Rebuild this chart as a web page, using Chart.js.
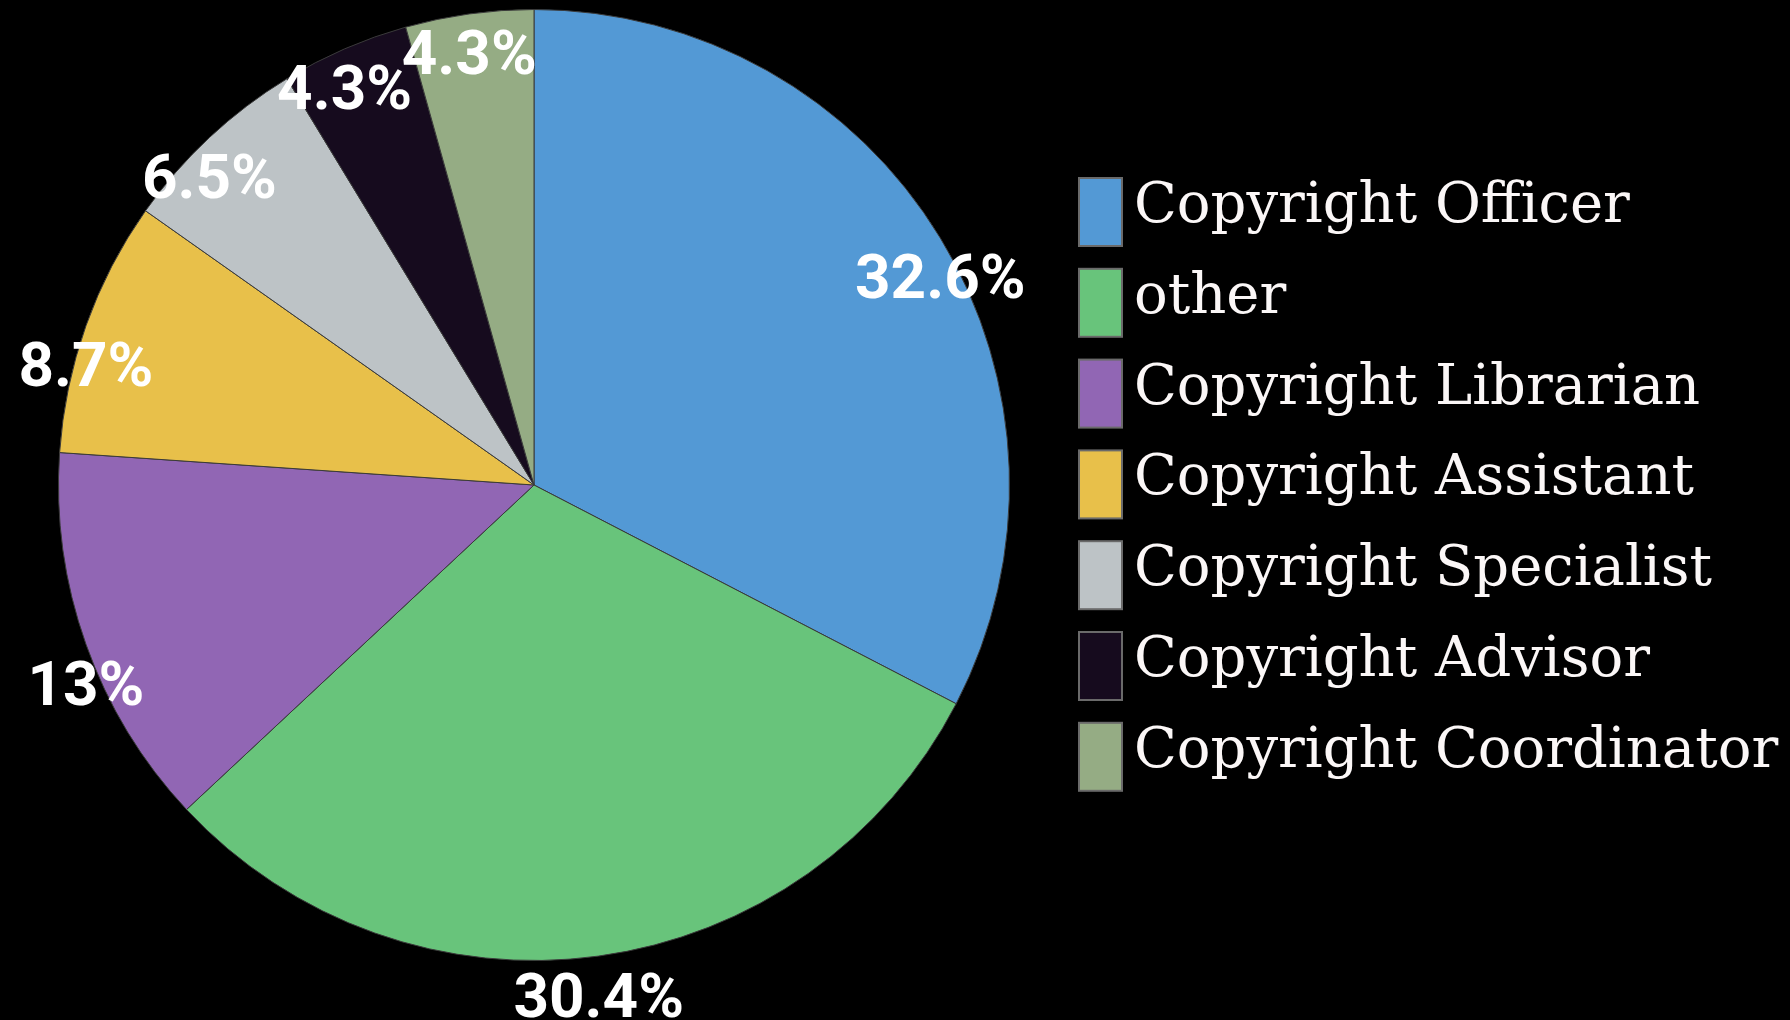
<!DOCTYPE html>
<html>
<head>
<meta charset="utf-8">
<script src="https://cdn.jsdelivr.net/npm/chart.js@4.4.1/dist/chart.umd.min.js"></script>
<style>
  html, body { margin: 0; padding: 0; background: #000; }
  #wrap { width: 1790px; height: 1020px; }
</style>
</head>
<body>
<div id="wrap"><canvas id="c" width="1790" height="1020"></canvas></div>
<script>
// ---- data ----
const categories = ['Copyright Officer', 'other', 'Copyright Librarian', 'Copyright Assistant',
                    'Copyright Specialist', 'Copyright Advisor', 'Copyright Coordinator'];
const counts = [15, 14, 6, 4, 3, 2, 2];
const sliceColors = ['#5399D5', '#68C47B', '#9166B4', '#E8C04A', '#BDC3C6', '#160B1E', '#95AC84'];

const total = counts.reduce((a, b) => a + b, 0);
function pctText(v) {
  let s = (v / total * 100).toFixed(1);
  if (s.endsWith('.0')) s = s.slice(0, -2);
  return s + '%';
}

const labelPlugin = {
  id: 'sliceLabels',
  afterDatasetsDraw(chart) {
    const ctx = chart.ctx;
    const meta = chart.getDatasetMeta(0);
    ctx.save();
    ctx.font = 'bold 62px Roboto';
    ctx.fillStyle = '#ffffff';
    ctx.textAlign = 'center';
    ctx.textBaseline = 'middle';
    meta.data.forEach((arc, i) => {
      const p = arc.getProps(['x', 'y', 'startAngle', 'endAngle', 'outerRadius'], true);
      const mid = (p.startAngle + p.endAngle) / 2;
      const px = p.x + Math.cos(mid) * p.outerRadius;
      const py = p.y + Math.sin(mid) * p.outerRadius + 45;
      ctx.fillText(pctText(counts[i]), px, py);
    });
    ctx.restore();
  }
};

const legendPlugin = {
  id: 'sideLegend',
  afterDraw(chart) {
    const ctx = chart.ctx;
    const boxX = 1079, boxW = 43, boxH = 68, top0 = 178, pitch = 90.8, textX = 1134;
    ctx.save();
    ctx.font = '56px "DejaVu Serif"';
    ctx.textAlign = 'left';
    ctx.textBaseline = 'alphabetic';
    chart.data.labels.forEach((lab, i) => {
      const y = top0 + i * pitch;
      ctx.fillStyle = chart.data.datasets[0].backgroundColor[i];
      ctx.fillRect(boxX, y, boxW, boxH);
      ctx.strokeStyle = '#6a6a6a';
      ctx.lineWidth = 2;
      ctx.strokeRect(boxX, y, boxW, boxH);
      ctx.fillStyle = '#fbf7f7';
      ctx.fillText(lab, textX, y + 44);
    });
    ctx.restore();
  }
};

new Chart(document.getElementById('c'), {
  type: 'pie',
  data: {
    labels: categories,
    datasets: [{
      data: counts,
      backgroundColor: sliceColors,
      borderColor: '#3a3a3a',
      borderWidth: 1
    }]
  },
  options: {
    responsive: false,
    animation: false,
    devicePixelRatio: 1,
    layout: { padding: { left: 58, right: 780, top: 9, bottom: 59 } },
    plugins: {
      legend: { display: false },
      tooltip: { enabled: false }
    }
  },
  plugins: [labelPlugin, legendPlugin]
});
</script>
</body>
</html>
